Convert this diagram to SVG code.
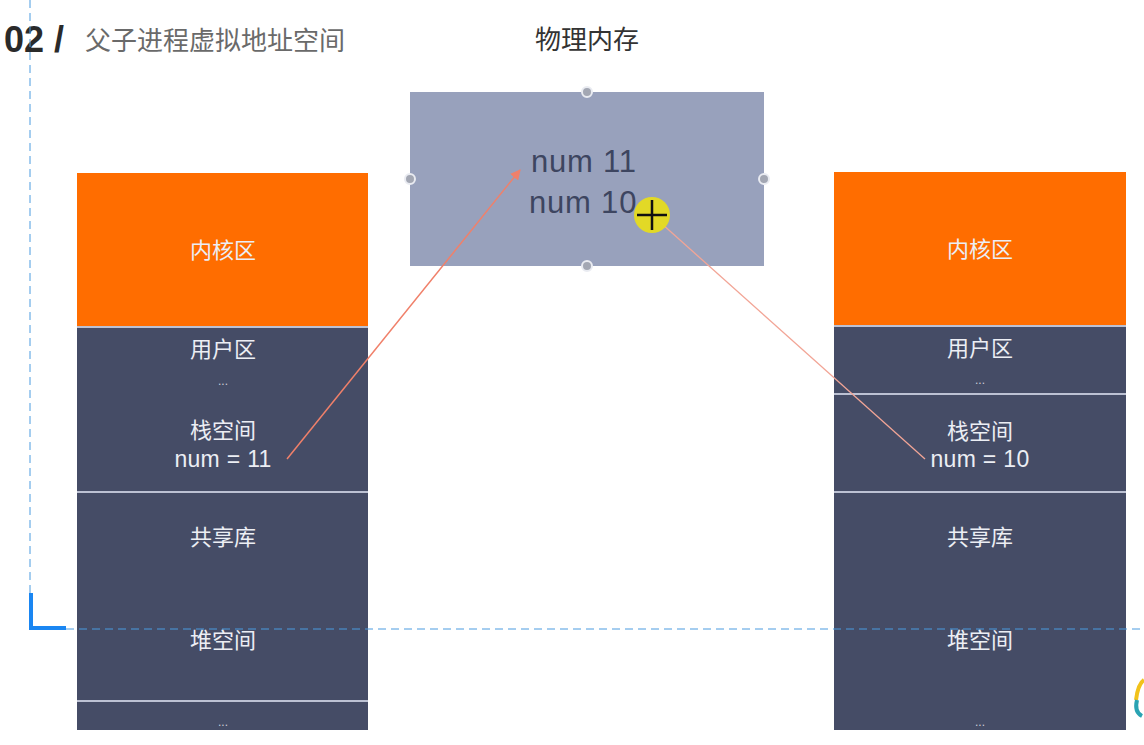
<svg xmlns="http://www.w3.org/2000/svg" width="1144" height="745" viewBox="0 0 1144 745">
<defs>
<style>
.cjk{font-family:"Liberation Sans","Noto Sans CJK SC",sans-serif;}
.lbl{font-family:"Liberation Sans","Noto Sans CJK SC",sans-serif;font-size:22px;fill:#eceef4;text-anchor:middle;}
.num{font-family:"Liberation Sans",sans-serif;font-size:23px;fill:#eceef4;text-anchor:middle;letter-spacing:0.3px;}
.dots{font-family:"Liberation Sans",sans-serif;font-size:12px;fill:#c9cdd9;text-anchor:middle;}
.kern{fill:#ff6d00;}
.user{fill:#454c66;}
.sep{stroke:#bcc1d3;stroke-width:2;}
.handle{fill:#a3a7b3;stroke:#e9ebf1;stroke-width:2;}
.guide{stroke:#4a9be0;stroke-width:1;stroke-dasharray:8,5;fill:none;}
.mem{font-family:"Liberation Sans",sans-serif;font-size:31px;fill:#3d4560;letter-spacing:0.8px;}
</style>
<marker id="ah" viewBox="0 0 10 10" refX="9" refY="5" markerWidth="7" markerHeight="7" orient="auto">
<path d="M0,0 L10,5 L0,10 z" fill="#f0806a"/>
</marker>
</defs>
<rect width="1144" height="745" fill="#ffffff"/>

<g id="title">
<text x="4" y="52" font-family="Liberation Sans,sans-serif" font-size="36" font-weight="bold" fill="#2a2a2a">02 /</text>
<text x="85" y="50" class="cjk" font-size="26" fill="#6a6a6a">父子进程虚拟地址空间</text>
</g>

<g id="phys-label">
<text x="587" y="49" class="cjk" font-size="26" fill="#333" text-anchor="middle">物理内存</text>
</g>

<g id="left-stack">
<rect x="77" y="173" width="291" height="154" class="kern"/>
<rect x="77" y="327" width="291" height="403" class="user"/>
<line x1="77" y1="327" x2="368" y2="327" class="sep"/>
<line x1="77" y1="492" x2="368" y2="492" class="sep"/>
<line x1="77" y1="701" x2="368" y2="701" class="sep"/>
<text x="223" y="258" class="lbl">内核区</text>
<text x="223" y="357" class="lbl">用户区</text>
<text x="223" y="385" class="dots">...</text>
<text x="223" y="438" class="lbl">栈空间</text>
<text x="223" y="467" class="num">num = 11</text>
<text x="223" y="545" class="lbl">共享库</text>
<text x="223" y="648" class="lbl">堆空间</text>
<text x="223" y="726" class="dots">...</text>
</g>

<g id="right-stack">
<rect x="834" y="172" width="292" height="154" class="kern"/>
<rect x="834" y="326" width="292" height="404" class="user"/>
<line x1="834" y1="326" x2="1126" y2="326" class="sep"/>
<line x1="834" y1="394" x2="1126" y2="394" class="sep"/>
<line x1="834" y1="492" x2="1126" y2="492" class="sep"/>
<text x="980" y="257" class="lbl">内核区</text>
<text x="980" y="356" class="lbl">用户区</text>
<text x="980" y="384" class="dots">...</text>
<text x="980" y="439" class="lbl">栈空间</text>
<text x="980" y="467" class="num">num = 10</text>
<text x="980" y="545" class="lbl">共享库</text>
<text x="980" y="648" class="lbl">堆空间</text>
<text x="980" y="726" class="dots">...</text>
</g>

<g id="physical-memory">
<rect x="410" y="92" width="354" height="174" fill="#98a1bc"/>
<text x="531" y="172" class="mem">num 11</text>
<text x="529" y="213" class="mem">num 10</text>
<circle cx="587" cy="92" r="5" class="handle"/>
<circle cx="410" cy="179" r="5" class="handle"/>
<circle cx="764" cy="179" r="5" class="handle"/>
<circle cx="587" cy="266" r="5" class="handle"/>
</g>

<g id="connectors">
<line x1="287" y1="459" x2="520" y2="170" stroke="#f0806a" stroke-width="1.5" marker-end="url(#ah)"/>
<line x1="925" y1="459" x2="652" y2="215" stroke="#f2a596" stroke-width="1.3"/>
</g>

<g id="cursor">
<circle cx="652" cy="215" r="18" fill="#e6dc1e" fill-opacity="0.95"/>
<line x1="637" y1="215" x2="667" y2="215" stroke="#111" stroke-width="2.5"/>
<line x1="652" y1="200" x2="652" y2="230" stroke="#111" stroke-width="2.5"/>
</g>

<g id="guides">
<line x1="30" y1="0" x2="30" y2="594" class="guide"/>
<line x1="66" y1="629" x2="1144" y2="629" class="guide"/>
<path d="M31,593 L31,628 L66,628" fill="none" stroke="#1a86f2" stroke-width="4"/>
</g>

<g id="logo">
<path d="M1136,700 Q1138,684 1144,680" fill="none" stroke="#f2c21a" stroke-width="4"/>
<path d="M1142,716 Q1134,712 1137,700" fill="none" stroke="#2aa3b3" stroke-width="4"/>
</g>
</svg>
